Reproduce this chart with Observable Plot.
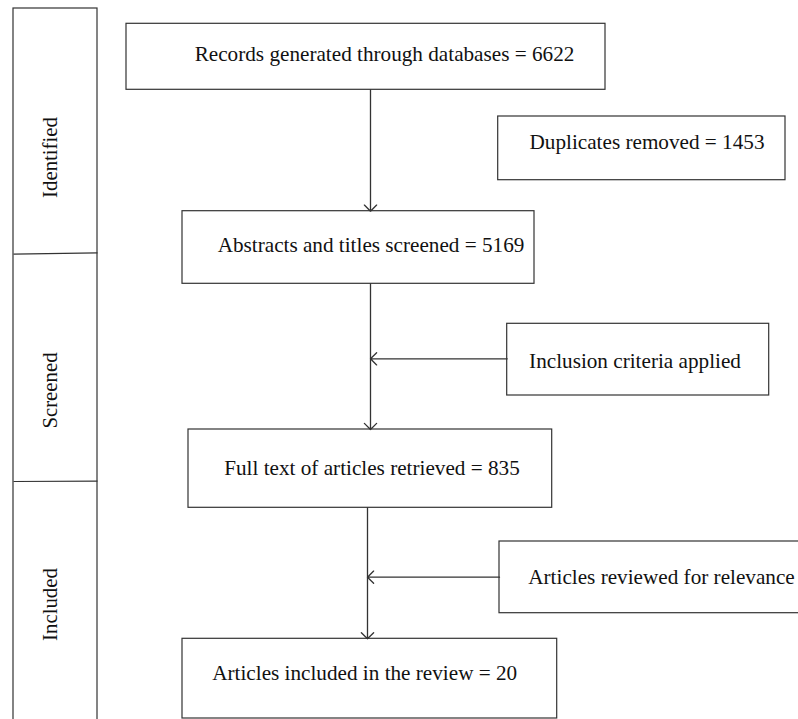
<!DOCTYPE html>
<html>
<head>
<meta charset="utf-8">
<script src="https://cdn.jsdelivr.net/npm/d3@7"></script>
<script src="https://cdn.jsdelivr.net/npm/@observablehq/plot@0.6"></script>
<style>
  html, body { margin: 0; padding: 0; background: #fff; }
  svg { display: block; }
</style>
</head>
<body>
<div id="chart"></div>
<script>
// ---- Data ----
const phases = ["Identified", "Screened", "Included"];
const stepLabels = [
  "Records generated through databases",
  "Duplicates removed",
  "Abstracts and titles screened",
  "Inclusion criteria applied",
  "Full text of articles retrieved",
  "Articles reviewed for relevance",
  "Articles included in the review"
];
const stepCounts = [6622, 1453, 5169, null, 835, null, 20];

// ---- Layout (diagram coordinates, in the x/y scale domains) ----
const boxLayout = [
  {x1: 126, x2: 605, y1: 23.3, y2: 89.3, tx: 384, ty: 58.3},
  {x1: 497.7, x2: 785, y1: 116, y2: 179.7, tx: 646.5, ty: 146.5},
  {x1: 182, x2: 534, y1: 210.7, y2: 283.3, tx: 370.5, ty: 249},
  {x1: 506.7, x2: 768.7, y1: 323.3, y2: 395, tx: 634.5, ty: 365},
  {x1: 188, x2: 551.7, y1: 429, y2: 507.3, tx: 371.5, ty: 472.3},
  {x1: 499, x2: 805, y1: 541, y2: 612.7, tx: 661, ty: 581.7},
  {x1: 182, x2: 556.7, y1: 638.3, y2: 718, tx: 364.2, ty: 677.7}
];
const phaseLayout = [
  {y1: 8, y2: 253, ty: 157},
  {y1: 253, y2: 481, ty: 390},
  {y1: 481, y2: 730, ty: 604}
];
const arrowLayout = [
  {x1: 370, y1: 89.3, x2: 370, y2: 210.7},
  {x1: 370, y1: 283.3, x2: 370, y2: 429},
  {x1: 506.7, y1: 358.3, x2: 370, y2: 358.3},
  {x1: 367, y1: 507.3, x2: 367, y2: 638.3},
  {x1: 499, y1: 576.7, x2: 367, y2: 576.7}
];
const dividerLayout = [
  {x1: 13, y1: 253.7, x2: 97, y2: 252.3},
  {x1: 13, y1: 481, x2: 97, y2: 480.7}
];

const FS = 21.2;
const boxes = stepLabels.map((l, i) => ({
  text: stepCounts[i] == null ? l : `${l} = ${stepCounts[i]}`,
  ...boxLayout[i]
}));
const phaseRows = phases.map((p, i) => ({label: p, ...phaseLayout[i]}));

const stroke = "#333";
const chart = Plot.plot({
  width: 798,
  height: 719,
  margin: 0,
  x: {domain: [0, 798], range: [0, 798], axis: null},
  y: {domain: [0, 719], range: [0, 719], axis: null},
  style: {fontFamily: "'Liberation Serif', serif", background: "#fff", color: "#111"},
  marks: [
    // left phase column
    Plot.rect([{x1: 13, x2: 97, y1: 8, y2: 730}], {x1: "x1", x2: "x2", y1: "y1", y2: "y2", fill: "#fff", stroke, strokeWidth: 1.2}),
    Plot.link(dividerLayout, {x1: "x1", y1: "y1", x2: "x2", y2: "y2", stroke, strokeWidth: 1.2}),
    Plot.text(phaseRows, {x: () => 50, y: "ty", text: "label", rotate: -90, fontSize: 20.8, fill: "#111"}),
    // boxes
    Plot.rect(boxes, {x1: "x1", x2: "x2", y1: "y1", y2: "y2", fill: "#fff", stroke, strokeWidth: 1.2}),
    Plot.text(boxes, {x: "tx", y: d => d.ty - 0.32 * FS + 2, text: "text", fontSize: FS, fill: "#111"}),
    // arrows
    Plot.arrow(arrowLayout, {x1: "x1", y1: "y1", x2: "x2", y2: "y2", stroke, strokeWidth: 1.3, headLength: 10, headAngle: 90, inset: 0})
  ]
});
document.getElementById("chart").appendChild(chart);
</script>
</body>
</html>
